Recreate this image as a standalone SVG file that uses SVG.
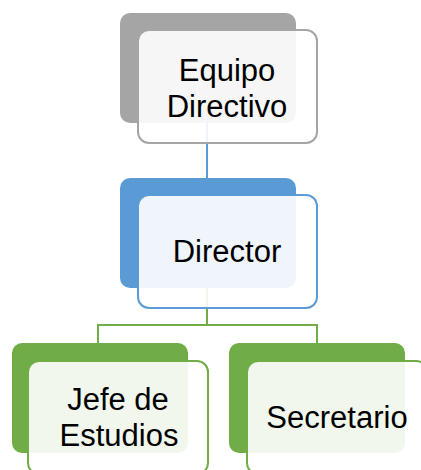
<svg xmlns="http://www.w3.org/2000/svg" width="421" height="470" viewBox="0 0 421 470">
<style>
.back{stroke:none}
.front{fill:#ffffff;fill-opacity:0.9;stroke-width:2}
.lbl{font-family:"Liberation Sans",Arial,sans-serif;font-size:31px;fill:#000;text-anchor:middle}
.conn{fill:none;stroke-width:2}
</style>
<rect width="421" height="470" fill="#ffffff"/>
<g id="connectors">
<line class="conn" x1="207" y1="123" x2="207" y2="178" stroke="#5b9bd5"/>
<polyline class="conn" points="207,288 207,325 98,325 98,343" stroke="#70ad47"/>
<polyline class="conn" points="207,325 317,325 317,343" stroke="#70ad47"/>
</g>
<g id="equipo">
<rect class="back" x="120" y="13" width="176" height="110" rx="10" fill="#a5a5a5"/>
<rect class="front" x="138" y="30" width="179" height="113" rx="11" stroke="#a5a5a5"/>
<text class="lbl" x="227" y="81">Equipo</text>
<text class="lbl" x="227" y="117">Directivo</text>
</g>
<g id="director">
<rect class="back" x="120" y="178" width="176" height="110" rx="10" fill="#5b9bd5"/>
<rect class="front" x="138" y="195" width="179" height="113" rx="11" stroke="#5b9bd5"/>
<text class="lbl" x="227" y="262">Director</text>
</g>
<g id="jefe">
<rect class="back" x="12" y="343" width="176" height="110" rx="10" fill="#70ad47"/>
<rect class="front" x="28" y="361" width="180" height="113" rx="11" stroke="#70ad47"/>
<text class="lbl" x="118" y="410">Jefe de</text>
<text class="lbl" x="119" y="446">Estudios</text>
</g>
<g id="secretario">
<rect class="back" x="229" y="343" width="176" height="110" rx="10" fill="#70ad47"/>
<rect class="front" x="247" y="361" width="180" height="113" rx="11" stroke="#70ad47"/>
<text class="lbl" x="337" y="428">Secretario</text>
</g>
</svg>
